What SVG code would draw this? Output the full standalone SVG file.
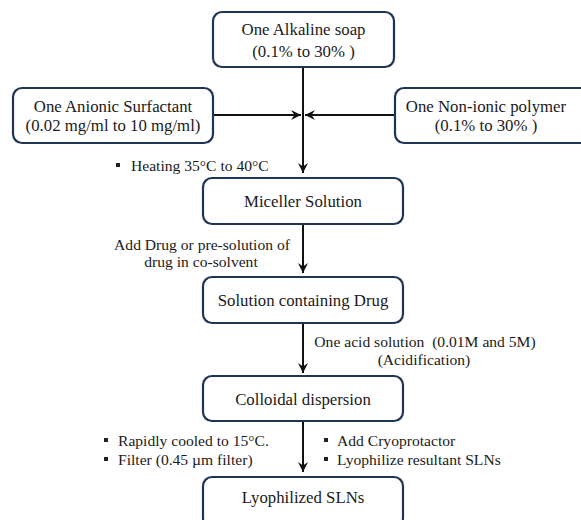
<svg xmlns="http://www.w3.org/2000/svg" width="581" height="520" viewBox="0 0 581 520">
<style>
.box{fill:#fff;stroke:#1f3556;stroke-width:2.2}
.t{font-family:"Liberation Serif","Times New Roman",serif;font-size:16.8px;fill:#1a1a1a;text-anchor:middle}
.a{font-family:"Liberation Serif","Times New Roman",serif;font-size:15.6px;fill:#1a1a1a}
.c{text-anchor:middle}
.ln{stroke:#111;stroke-width:2;fill:none}
.bl{fill:#222}
</style>
<defs>
<marker id="ah" viewBox="0 0 10 10" refX="10" refY="5" markerWidth="10" markerHeight="10" markerUnits="userSpaceOnUse" orient="auto">
<path d="M0,0 L10,5 L0,10 L3.5,5 z" fill="#111"/>
</marker>
</defs>
<rect width="581" height="520" fill="#fff"/>
<g id="connectors">
<line class="ln" x1="303" y1="67" x2="303" y2="173" marker-end="url(#ah)"/>
<line class="ln" x1="213" y1="115" x2="301" y2="115" marker-end="url(#ah)"/>
<line class="ln" x1="395" y1="115" x2="305" y2="115" marker-end="url(#ah)"/>
<line class="ln" x1="303" y1="224" x2="303" y2="273" marker-end="url(#ah)"/>
<line class="ln" x1="303" y1="323" x2="303" y2="373" marker-end="url(#ah)"/>
<line class="ln" x1="303" y1="421" x2="303" y2="472" marker-end="url(#ah)"/>
</g>
<g id="alkaline">
<rect class="box" x="213" y="12" width="181" height="55" rx="9"/>
<text class="t" x="303.5" y="35">One Alkaline soap</text>
<text class="t" x="303.5" y="57">(0.1% to 30% )</text>
</g>
<g id="anionic">
<rect class="box" x="13" y="88" width="200" height="55" rx="9"/>
<text class="t" x="113" y="112">One Anionic Surfactant</text>
<text class="t" x="113" y="131">(0.02 mg/ml to 10 mg/ml)</text>
</g>
<g id="nonionic">
<rect class="box" x="395" y="88" width="195" height="55" rx="9"/>
<text class="t" x="486" y="112">One Non-ionic polymer</text>
<text class="t" x="486" y="131">(0.1% to 30% )</text>
</g>
<g id="heating">
<rect class="bl" x="116" y="163" width="4" height="4"/>
<text class="a" x="131" y="171">Heating 35°C to 40°C</text>
</g>
<g id="miceller">
<rect class="box" x="203" y="178" width="200" height="46" rx="9"/>
<text class="t" x="303" y="207">Miceller Solution</text>
</g>
<g id="adddrug">
<text class="a c" x="202" y="250">Add Drug or pre-solution of</text>
<text class="a c" x="201" y="267">drug in co-solvent</text>
</g>
<g id="solution">
<rect class="box" x="203" y="277" width="200" height="46" rx="9"/>
<text class="t" x="303" y="306">Solution containing Drug</text>
</g>
<g id="acid">
<text class="a c" x="425" y="347" xml:space="preserve">One acid solution  (0.01M and 5M)</text>
<text class="a c" x="424" y="365">(Acidification)</text>
</g>
<g id="colloidal">
<rect class="box" x="203" y="376" width="200" height="45" rx="9"/>
<text class="t" x="303" y="405">Colloidal dispersion</text>
</g>
<g id="cooling">
<rect class="bl" x="104" y="438" width="4" height="4"/>
<text class="a" x="118" y="446">Rapidly cooled to 15°C.</text>
<rect class="bl" x="104" y="457" width="4" height="4"/>
<text class="a" x="118" y="465">Filter (0.45 µm filter)</text>
</g>
<g id="cryo">
<rect class="bl" x="324" y="438" width="4" height="4"/>
<text class="a" x="337" y="446">Add Cryoprotactor</text>
<rect class="bl" x="324" y="457" width="4" height="4"/>
<text class="a" x="337" y="465">Lyophilize resultant SLNs</text>
</g>
<g id="lyophilized">
<rect class="box" x="203" y="477" width="200" height="50" rx="9"/>
<text class="t" x="303" y="503">Lyophilized SLNs</text>
</g>
</svg>
